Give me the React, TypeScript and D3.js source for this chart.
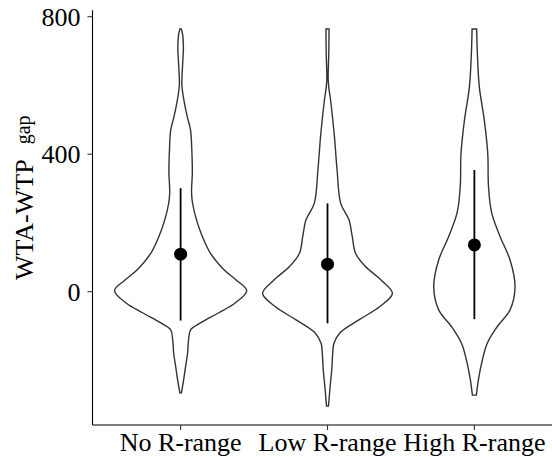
import React from "react";
import * as d3 from "d3";

// categories and summary (mean +/- sd)
const groups = ["No R-range", "Low R-range", "High R-range"];
const means = [109, 80, 136];
const lowers = [-84, -92, -80];
const uppers = [301, 257, 354];
const yTicks = [0, 400, 800];

// violin outlines: [value, relative density]
const noRange = [
  [764, 0.012], [745, 0.033], [709, 0.042], [660, 0.03], [601, 0.019],
  [558, 0.049], [509, 0.1], [470, 0.15], [412, 0.169], [345, 0.177],
  [290, 0.165], [258, 0.18], [209, 0.24], [160, 0.33], [112, 0.45],
  [63, 0.66], [34, 0.84], [3, 1.0], [-33, 0.825], [-62, 0.57],
  [-91, 0.3], [-111, 0.15], [-140, 0.12], [-179, 0.105], [-218, 0.075],
  [-257, 0.045], [-294, 0.012],
];
const lowRange = [
  [764, 0.023], [730, 0.022], [690, 0.019], [611, 0.012], [549, 0.052],
  [451, 0.105], [354, 0.145], [257, 0.2], [209, 0.325], [160, 0.375],
  [112, 0.424], [73, 0.574], [34, 0.81], [-5, 0.982], [-44, 0.787],
  [-82, 0.475], [-120, 0.187], [-150, 0.097], [-179, 0.079], [-228, 0.064],
  [-276, 0.04], [-333, 0.015],
];
const highRange = [
  [764, 0.035], [694, 0.045], [596, 0.075], [499, 0.15], [403, 0.202],
  [305, 0.214], [229, 0.262], [160, 0.39], [92, 0.54], [15, 0.615],
  [-53, 0.54], [-102, 0.345], [-150, 0.195], [-199, 0.12], [-257, 0.06],
  [-301, 0.03],
];
const violins = [noRange, lowRange, highRange];

const font = "Liberation Serif, Times New Roman, serif";

export default function App() {
  const width = 552;
  const height = 459;
  const marginLeft = 92.5;
  const plotRight = 562.5;
  const marginTop = 10.2;
  const axisY = 425;

  const allVals = violins.flat().map(d => d[0]);
  const lo = d3.min(allVals);
  const hi = d3.max(allVals);
  const pad = (hi - lo) * 0.05;

  const y = d3.scaleLinear()
    .domain([lo - pad, hi + pad])
    .range([axisY, marginTop]);

  const x = d3.scalePoint()
    .domain(groups)
    .range([marginLeft, plotRight])
    .padding(0.6);

  const w = d3.scaleLinear()
    .domain([0, 1])
    .range([0, x.step() * 0.45]);

  const textStyle = { fontFamily: font };

  return (
    <div style={{ position: "absolute", left: 0, top: 0 }}>
      <svg width={width} height={height} style={{ display: "block" }}>
        {/* violins */}
        {violins.map((v, i) => {
          const cx = x(groups[i]);
          const area = d3.area()
            .y(d => y(d[0]))
            .x0(d => cx - w(d[1]))
            .x1(d => cx + w(d[1]))
            .curve(d3.curveCatmullRom.alpha(0.5));
          return (
            <path key={groups[i]} d={area(v)} fill="white" stroke="#333" strokeWidth={1.4} />
          );
        })}

        {/* mean and sd */}
        {groups.map((g, i) => (
          <g key={g}>
            <line x1={x(g)} x2={x(g)} y1={y(lowers[i])} y2={y(uppers[i])} stroke="black" strokeWidth={1.8} />
            <circle cx={x(g)} cy={y(means[i])} r={6.5} fill="black" />
          </g>
        ))}

        {/* y axis */}
        <line x1={marginLeft} x2={marginLeft} y1={marginTop} y2={axisY} stroke="black" strokeWidth={1.1} />
        {yTicks.map(t => (
          <g key={t} transform={`translate(0,${y(t)})`}>
            <line x1={marginLeft - 5} x2={marginLeft} stroke="#333" strokeWidth={1.1} />
            <text x={marginLeft - 12} dy="0.34em" textAnchor="end" fontSize={26} fill="black" style={textStyle}>{t}</text>
          </g>
        ))}

        {/* x axis */}
        <line x1={marginLeft} x2={plotRight} y1={axisY} y2={axisY} stroke="black" strokeWidth={1.1} />
        {groups.map(g => (
          <g key={g} transform={`translate(${x(g)},${axisY})`}>
            <line y1={0} y2={5} stroke="#333" strokeWidth={1.1} />
            <text y={26} textAnchor="middle" fontSize={26} fill="black" style={textStyle}>{g}</text>
          </g>
        ))}

        {/* y title */}
        <text transform="translate(33,280) rotate(-90)" fontSize={26} fill="black" style={textStyle}>
          WTA-WTP
          <tspan fontSize={20} dx={15} dy={-3}>gap</tspan>
        </text>
      </svg>
    </div>
  );
}
